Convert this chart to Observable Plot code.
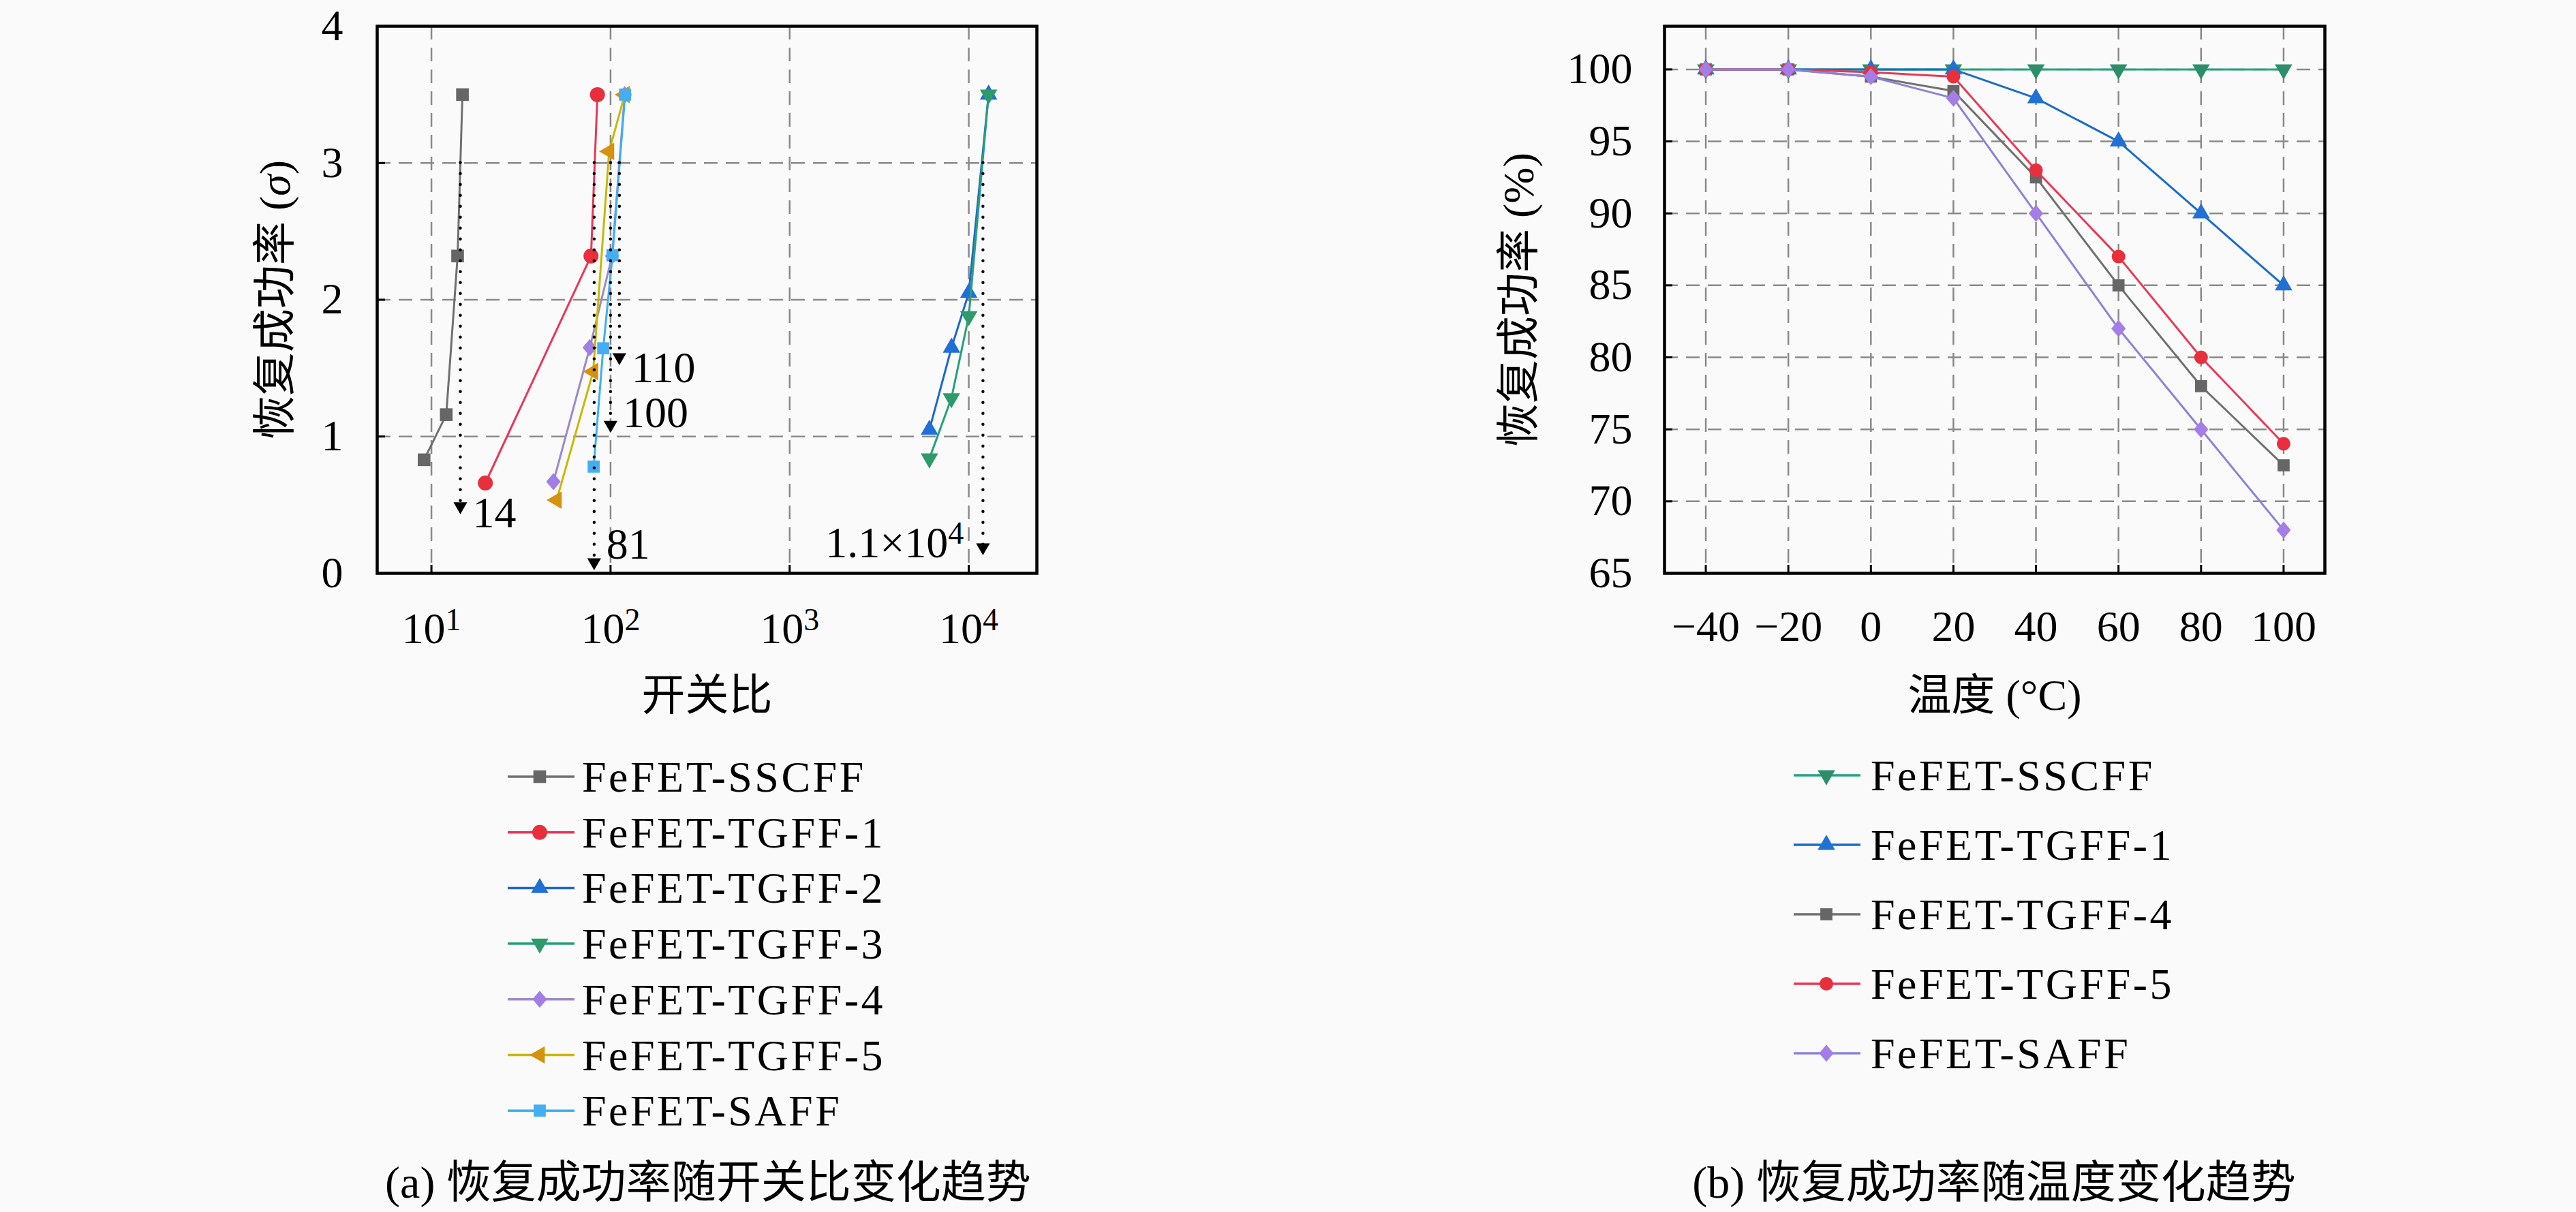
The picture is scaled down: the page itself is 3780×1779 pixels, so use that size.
<!DOCTYPE html>
<html><head><meta charset="utf-8">
<script src="https://cdn.jsdelivr.net/npm/d3@7"></script>
<script src="https://cdn.jsdelivr.net/npm/@observablehq/plot@0.6"></script>
<style>
html,body{margin:0;padding:0;background:#fafafa;}
#page{position:relative;width:3780px;height:1779px;background:#fafafa;overflow:hidden;font-family:"Liberation Serif","Noto Sans CJK SC",serif;}
#left,#right{position:absolute;top:0;}
#left{left:0;}
#right{left:1890px;}
#overlay{position:absolute;left:0;top:0;}
</style></head>
<body>
<div id="page"><div id="left"></div><div id="right"></div><svg id="overlay" width="3780" height="1779"></svg></div>
<script>
// ---------- data: panel (a) on/off ratio vs recovery (sigma) ----------
const ratioNames = ["FeFET-SSCFF","FeFET-TGFF-1","FeFET-TGFF-2","FeFET-TGFF-3","FeFET-TGFF-4","FeFET-TGFF-5","FeFET-SAFF"];
const sscffRatio = [9.1, 12.1, 14.0, 14.9];
const sscffSigma = [0.83, 1.16, 2.32, 3.5];
const tgff1Ratio = [20, 77.8, 84.5];
const tgff1Sigma = [0.66, 2.32, 3.5];
const tgff2Ratio = [6030, 8010, 10000, 12900];
const tgff2Sigma = [1.05, 1.65, 2.05, 3.5];
const tgff3Ratio = [6030, 8000, 10000, 12900];
const tgff3Sigma = [0.84, 1.28, 1.88, 3.5];
const tgff4Ratio = [48, 76.6, 102, 120];
const tgff4Sigma = [0.67, 1.65, 2.32, 3.5];
const tgff5Ratio = [50, 80, 98.2, 120];
const tgff5Sigma = [0.535, 1.475, 3.085, 3.5];
const saffRatio = [80.5, 91, 102.5, 120.5];
const saffSigma = [0.78, 1.645, 2.325, 3.5];
const ratioTicks = [10, 100, 1000, 10000];
const sigmaTicks = [0, 1, 2, 3, 4];

// annotations (dotted drop lines with arrows)
const markedRatio = [14.5, 81, 100, 112, 12000];
const markedLabel = ["14", "81", "100", "110", "1.1×10^4"];
const arrowSigma = [0.49, 0.08, 1.085, 1.58, 0.19];
const labelSigma = [0.44, 0.21, 1.17, 1.50, 0.22];
const dropFromSigma = 3.0;

// ---------- data: panel (b) temperature vs recovery (%) ----------
const temps = [-40, -20, 0, 20, 40, 60, 80, 100];
const tempNames = ["FeFET-SSCFF","FeFET-TGFF-1","FeFET-TGFF-4","FeFET-TGFF-5","FeFET-SAFF"];
const sscffRate = [100, 100, 100, 100, 100, 100, 100, 100];
const tgff1Rate = [100, 100, 100, 100, 98, 95, 90, 85];
const tgff4Rate = [100, 100, 99.5, 98.5, 92.5, 85, 78, 72.5];
const tgff5Rate = [100, 100, 99.8, 99.5, 93, 87, 80, 74];
const saffRate = [100, 100, 99.5, 98, 90, 82, 75, 68];
const rateTicks = [65, 70, 75, 80, 85, 90, 95, 100];

// ---------- styles ----------
const rhombus = {
  draw(context, size) {
    const h = Math.sqrt(size / Math.PI) * 1.25, w = h * 0.85;
    context.moveTo(0, -h); context.lineTo(w, 0); context.lineTo(0, h); context.lineTo(-w, 0); context.closePath();
  }
};
const leftStyles = [
  {line:"#707070", fill:"#666666", symbol:"square", rotate:0, r:10.5},
  {line:"#e8365a", fill:"#e8303c", symbol:"circle", rotate:0, r:11},
  {line:"#1f68cc", fill:"#1f6fd6", symbol:"triangle", rotate:0, r:9.5},
  {line:"#27a07a", fill:"#2e9a6c", symbol:"triangle", rotate:180, r:9.5},
  {line:"#9a8cc8", fill:"#a07ee6", symbol:"rhombus", rotate:0, r:10},
  {line:"#c9b800", fill:"#d4920e", symbol:"triangle", rotate:-90, r:9.5},
  {line:"#3eb0f0", fill:"#45aef2", symbol:"square", rotate:0, r:10}
];
const rightStyles = [
  {line:"#22a57f", fill:"#2e8e6c", symbol:"triangle", rotate:180, r:9.5},
  {line:"#1a6bcc", fill:"#1f72d4", symbol:"triangle", rotate:0, r:9.5},
  {line:"#707070", fill:"#666666", symbol:"square", rotate:0, r:10},
  {line:"#e63a56", fill:"#e8303c", symbol:"circle", rotate:0, r:10},
  {line:"#8a84d6", fill:"#a57de6", symbol:"rhombus", rotate:0, r:10}
];
const symMap = {square: d3.symbolSquare, circle: d3.symbolCircle, triangle: d3.symbolTriangle, rhombus: rhombus};

const leftX = [sscffRatio, tgff1Ratio, tgff2Ratio, tgff3Ratio, tgff4Ratio, tgff5Ratio, saffRatio];
const leftY = [sscffSigma, tgff1Sigma, tgff2Sigma, tgff3Sigma, tgff4Sigma, tgff5Sigma, saffSigma];
const leftSeries = ratioNames.map((n, i) => leftX[i].map((x, j) => ({name: n, x, y: leftY[i][j]})));
const rightRates = [sscffRate, tgff1Rate, tgff4Rate, tgff5Rate, saffRate];
const rightSeries = tempNames.map((n, i) => temps.map((t, j) => ({name: n, x: t, y: rightRates[i][j]})));
const annos = markedRatio.map((x, i) => ({x, label: markedLabel[i], ay: arrowSigma[i], ly: labelSigma[i], y1: dropFromSigma}));

const FONT = '"Liberation Serif","Noto Sans CJK SC",serif';
const baseStyle = {fontFamily: FONT, fontSize: "64px", background: "transparent", color: "black", overflow: "visible"};
const gridStyle = {stroke: "#8a8a8a", strokeOpacity: 1, strokeWidth: 2.5, strokeDasharray: "20,12"};

function seriesMarks(series, styles) {
  const marks = [];
  series.forEach((s, i) => {
    const st = styles[i];
    marks.push(Plot.line(s, {x: "x", y: "y", stroke: st.line, strokeWidth: 3}));
    marks.push(Plot.dot(s, {x: "x", y: "y", symbol: symMap[st.symbol], fill: st.fill, r: st.r, rotate: st.rotate, stroke: "none"}));
  });
  return marks;
}

function sup(svg) {
  svg.querySelectorAll("text").forEach(t => {
    const s = t.textContent;
    if (s.includes("^")) {
      t.innerHTML = s.replace(/\^(\w+)/, '<tspan dy="-0.42em" font-size="0.72em">$1</tspan>');
    }
  });
}

// ---------- panel (a) ----------
const left = Plot.plot({
  width: 1890, height: 1090,
  marginLeft: 553, marginRight: 369, marginTop: 38, marginBottom: 249,
  style: baseStyle,
  x: {type: "log", domain: [4.98, 24000]},
  y: {domain: [0, 4]},
  marks: [
    Plot.gridX(ratioTicks, gridStyle),
    Plot.gridY([1, 2, 3], gridStyle),
    ...seriesMarks(leftSeries, leftStyles),
    Plot.ruleX(annos, {x: "x", y1: "y1", y2: "ay", stroke: "black", strokeWidth: 4.5, strokeDasharray: "0,16", strokeLinecap: "round"}),
    Plot.dot(annos, {x: "x", y: "ay", symbol: "triangle", rotate: 180, fill: "black", r: 7.5}),
    Plot.text(annos.filter(d => d.x < 1000), {x: "x", y: "ly", text: "label", textAnchor: "start", dx: 18, lineAnchor: "middle", fill: "black"}),
    Plot.text(annos.filter(d => d.x >= 1000), {x: "x", y: "ly", text: "label", textAnchor: "end", dx: -28, lineAnchor: "middle", fill: "black"}),
    Plot.frame({stroke: "black", strokeWidth: 4.5}),
    Plot.axisX(ratioTicks, {tickSize: -12, tickPadding: 69, strokeWidth: 3, tickFormat: d => "10^" + Math.round(Math.log10(d)), label: null}),
    Plot.axisY(sigmaTicks, {tickSize: -12, tickPadding: 62, strokeWidth: 3, tickFormat: d => String(d), label: null}),
    Plot.text(["开关比"], {frameAnchor: "bottom", dy: 180, text: d => d, lineAnchor: "middle", fill: "black"}),
    Plot.text(["恢复成功率 (σ)"], {frameAnchor: "left", dx: -149, rotate: -90, text: d => d, lineAnchor: "middle", textAnchor: "middle", fill: "black"})
  ]
});
sup(left);
left.querySelectorAll("text").forEach(t => {
  if (t.textContent.includes("(σ)")) t.innerHTML = '恢复成功率 (<tspan font-style="italic">σ</tspan>)';
});
document.getElementById("left").appendChild(left);

// ---------- panel (b) ----------
const right = Plot.plot({
  width: 1890, height: 1090,
  marginLeft: 552, marginRight: 369, marginTop: 38, marginBottom: 249,
  style: baseStyle,
  x: {domain: [-50, 110]},
  y: {domain: [65, 103]},
  marks: [
    Plot.gridX(temps, gridStyle),
    Plot.gridY(rateTicks, gridStyle),
    ...seriesMarks(rightSeries, rightStyles),
    Plot.frame({stroke: "black", strokeWidth: 4.5}),
    Plot.axisX(temps, {tickSize: -12, tickPadding: 66, strokeWidth: 3, tickFormat: d => d < 0 ? "\u2212" + (-d) : String(d), label: null}),
    Plot.axisY(rateTicks, {tickSize: -12, tickPadding: 59, strokeWidth: 3, tickFormat: d => String(d), label: null}),
    Plot.text(["温度 (°C)"], {frameAnchor: "bottom", dy: 180, text: d => d, lineAnchor: "middle", fill: "black"}),
    Plot.text(["恢复成功率 (%)"], {frameAnchor: "left", dx: -213, rotate: -90, text: d => d, lineAnchor: "middle", textAnchor: "middle", fill: "black"})
  ]
});
document.getElementById("right").appendChild(right);

// ---------- legends and captions ----------
const ov = d3.select("#overlay").style("font-family", FONT);
function legend(names, styles, x0, x1, mx, tx, y0, step) {
  names.forEach((n, i) => {
    const y = y0 + i * step, st = styles[i];
    const g = ov.append("g");
    g.append("line").attr("x1", x0).attr("x2", x1).attr("y1", y).attr("y2", y).attr("stroke", st.line).attr("stroke-width", 3.5);
    g.append("path").attr("d", d3.symbol(symMap[st.symbol], Math.PI * st.r * st.r)())
      .attr("transform", `translate(${mx},${y}) rotate(${st.rotate})`).attr("fill", st.fill);
    g.append("text").attr("x", tx).attr("y", y + 22).attr("font-size", 64).attr("letter-spacing", 3.5).text(n);
  });
}
legend(ratioNames, leftStyles, 745, 843, 792, 854, 1140, 81.7);
legend(tempNames, rightStyles, 2632, 2730, 2680, 2745, 1138, 102);
ov.append("text").attr("x", 1039).attr("y", 1758).attr("text-anchor", "middle").attr("font-size", 66).text("(a) 恢复成功率随开关比变化趋势");
ov.append("text").attr("x", 2926).attr("y", 1758).attr("text-anchor", "middle").attr("font-size", 66).text("(b) 恢复成功率随温度变化趋势");
</script>
</body></html>
